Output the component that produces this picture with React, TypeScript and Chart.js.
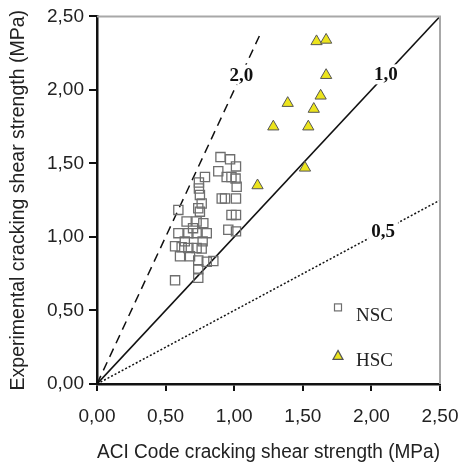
import React, { useEffect, useRef } from "react";
import { Chart, registerables } from "chart.js";

Chart.register(...registerables);

// NSC (normal strength concrete) points: ACI code vs experimental
const nscX = [
  1.013, 0.884, 0.787, 0.945, 0.98, 1.01, 0.743, 1.018, 0.743, 0.75,
  0.909, 0.933, 1.013, 0.593, 0.738, 0.75, 0.653, 0.726, 0.775, 0.98,
  1.013, 0.957, 1.013, 0.593, 0.666, 0.726, 0.8, 0.569, 0.617, 0.666,
  0.726, 0.763, 0.605, 0.678, 0.738, 0.8, 0.848, 0.738, 0.569, 0.738,
  0.9, 0.97, 0.763, 0.7, 0.64, 0.77,
];
const nscY = [
  1.48, 1.447, 1.408, 1.408, 1.408, 1.397, 1.37, 1.341, 1.33, 1.285,
  1.262, 1.262, 1.262, 1.184, 1.195, 1.172, 1.105, 1.105, 1.094, 1.15,
  1.15, 1.049, 1.038, 1.026, 1.026, 1.026, 1.026, 0.937, 0.93, 0.925,
  0.925, 0.921, 0.869, 0.869, 0.84, 0.831, 0.836, 0.78, 0.705, 0.723,
  1.543, 1.528, 1.228, 1.06, 0.97, 0.97,
];

// HSC (high strength concrete) points
const hscX = [1.6, 1.67, 1.67, 1.63, 1.39, 1.58, 1.285, 1.54, 1.516, 1.17];
const hscY = [2.33, 2.34, 2.1, 1.96, 1.91, 1.87, 1.75, 1.75, 1.47, 1.35];

// Reference lines: ratio and end point x
const ratioLabels = ["2,0", "1,0", "0,5"];
const ratioValues = [2.0, 1.0, 0.5];
const ratioEndX = [1.19, 2.5, 2.5];
const ratioLabelX = [1.052, 2.106, 2.085];

const xTicks = [0, 0.5, 1, 1.5, 2, 2.5];
const legendLabels = ["NSC", "HSC"];

const fmt = (v: number) => v.toFixed(2).replace(".", ",");

export default function App() {
  const ref = useRef<HTMLCanvasElement | null>(null);

  useEffect(() => {
    if (!ref.current) return;
    const sans = "'Liberation Sans', Arial, sans-serif";
    const serif = "'Liberation Serif', 'Times New Roman', serif";
    const yellow = "#ece41c";

    const decor = {
      id: "decor",
      afterDatasetsDraw(chart: any) {
        const ctx = chart.ctx;
        const { left, right, top, bottom } = chart.chartArea;
        const xs = chart.scales.x;
        const ys = chart.scales.y;
        ctx.save();
        // top & right frame
        ctx.strokeStyle = "#a8a8a8";
        ctx.lineWidth = 2;
        ctx.beginPath();
        ctx.moveTo(left, top);
        ctx.lineTo(right, top);
        ctx.lineTo(right, bottom);
        ctx.stroke();

        // line labels
        ctx.font = `bold 19px ${serif}`;
        ctx.textAlign = "center";
        ctx.textBaseline = "middle";
        ratioLabels.forEach((t, i) => {
          const px = xs.getPixelForValue(ratioLabelX[i]);
          const py = ys.getPixelForValue(ratioLabelX[i] * ratioValues[i]);
          const w = ctx.measureText(t).width;
          ctx.fillStyle = "#ffffff";
          ctx.fillRect(px - w / 2 - 3, py - 10, w + 6, 20);
          ctx.fillStyle = "#111";
          ctx.fillText(t, px, py + 1);
        });

        // legend
        const lx = left + 241;
        const ly1 = top + 291;
        const ly2 = top + 339;
        ctx.strokeStyle = "#6e6e6e";
        ctx.lineWidth = 1.2;
        ctx.strokeRect(lx - 3.5, ly1 - 3.5, 7, 7);
        ctx.beginPath();
        ctx.moveTo(lx, ly2 - 5);
        ctx.lineTo(lx + 5, ly2 + 4);
        ctx.lineTo(lx - 5, ly2 + 4);
        ctx.closePath();
        ctx.fillStyle = yellow;
        ctx.fill();
        ctx.strokeStyle = "#555";
        ctx.stroke();
        ctx.font = `19px ${serif}`;
        ctx.fillStyle = "#222";
        ctx.textAlign = "left";
        ctx.fillText(legendLabels[0], lx + 18, ly1 + 9);
        ctx.fillText(legendLabels[1], lx + 18, ly2 + 6);
        ctx.restore();
      },
    };

    const lineSets = ratioValues.map((r, i) => ({
      type: "line" as const,
      label: ratioLabels[i],
      data: [
        { x: 0, y: 0 },
        { x: ratioEndX[i], y: ratioEndX[i] * r },
      ],
      borderColor: "#111",
      borderWidth: i === 1 ? 1.6 : 1.5,
      borderDash: i === 0 ? [9, 6] : i === 2 ? [2, 2] : [],
      pointRadius: 0,
      fill: false,
      order: 2,
    }));

    const chart = new Chart(ref.current, {
      type: "scatter",
      data: {
        datasets: [
          ...lineSets,
          {
            type: "scatter" as const,
            label: legendLabels[0],
            data: nscX.map((x, i) => ({ x, y: nscY[i] })),
            pointStyle: "rect",
            pointRadius: 6.5,
            backgroundColor: "rgba(0,0,0,0)",
            borderColor: "#6e6e6e",
            borderWidth: 1.3,
            order: 1,
          },
          {
            type: "scatter" as const,
            label: legendLabels[1],
            data: hscX.map((x, i) => ({ x, y: hscY[i] })),
            pointStyle: "triangle",
            pointRadius: 6.5,
            backgroundColor: yellow,
            borderColor: "#555",
            borderWidth: 1,
            order: 0,
          },
        ] as any,
      },
      options: {
        responsive: false,
        animation: false,
        devicePixelRatio: 1,
        layout: { padding: { top: 13, right: 23, left: 0, bottom: 0 } },
        plugins: {
          legend: { display: false },
          tooltip: { enabled: false },
        },
        scales: {
          x: {
            type: "linear",
            min: 0,
            max: 2.5,
            afterBuildTicks: (s: any) => {
              s.ticks = xTicks.map((v) => ({ value: v }));
            },
            afterFit: (s: any) => {
              s.height = 84;
              s.paddingLeft = 0;
              s.paddingRight = 0;
            },
            ticks: {
              callback: (v: any) => fmt(Number(v)),
              font: { family: sans, size: 19 },
              color: "#222",
              padding: 14,
              maxRotation: 0,
            },
            grid: {
              drawOnChartArea: false,
              drawTicks: true,
              tickLength: 7,
              tickColor: "#111",
              lineWidth: 2,
            },
            border: { color: "#111", width: 2.5 },
            title: {
              display: true,
              text: "ACI Code cracking shear strength (MPa)",
              font: { family: sans, size: 19.5 },
              color: "#222",
              padding: { top: 4, bottom: 4 },
            },
          },
          y: {
            type: "linear",
            min: 0,
            max: 2.5,
            afterBuildTicks: (s: any) => {
              s.ticks = xTicks.map((v) => ({ value: v }));
            },
            afterFit: (s: any) => {
              s.width = 97;
            },
            ticks: {
              callback: (v: any) => fmt(Number(v)),
              font: { family: sans, size: 19 },
              color: "#222",
              padding: 5,
            },
            grid: {
              drawOnChartArea: false,
              drawTicks: true,
              tickLength: 8,
              tickColor: "#111",
              lineWidth: 2,
            },
            border: { color: "#111", width: 2.5 },
            title: {
              display: true,
              text: "Experimental cracking shear strength (MPa)",
              font: { family: sans, size: 19.5 },
              color: "#222",
              padding: { top: 7, bottom: 4 },
            },
          },
        },
      },
      plugins: [decor],
    } as any);

    return () => chart.destroy();
  }, []);

  return (
    <div style={{ position: "absolute", left: 0, top: 0, width: 463, height: 468, background: "#fff" }}>
      <canvas ref={ref} width={463} height={468} style={{ display: "block" }} />
    </div>
  );
}
